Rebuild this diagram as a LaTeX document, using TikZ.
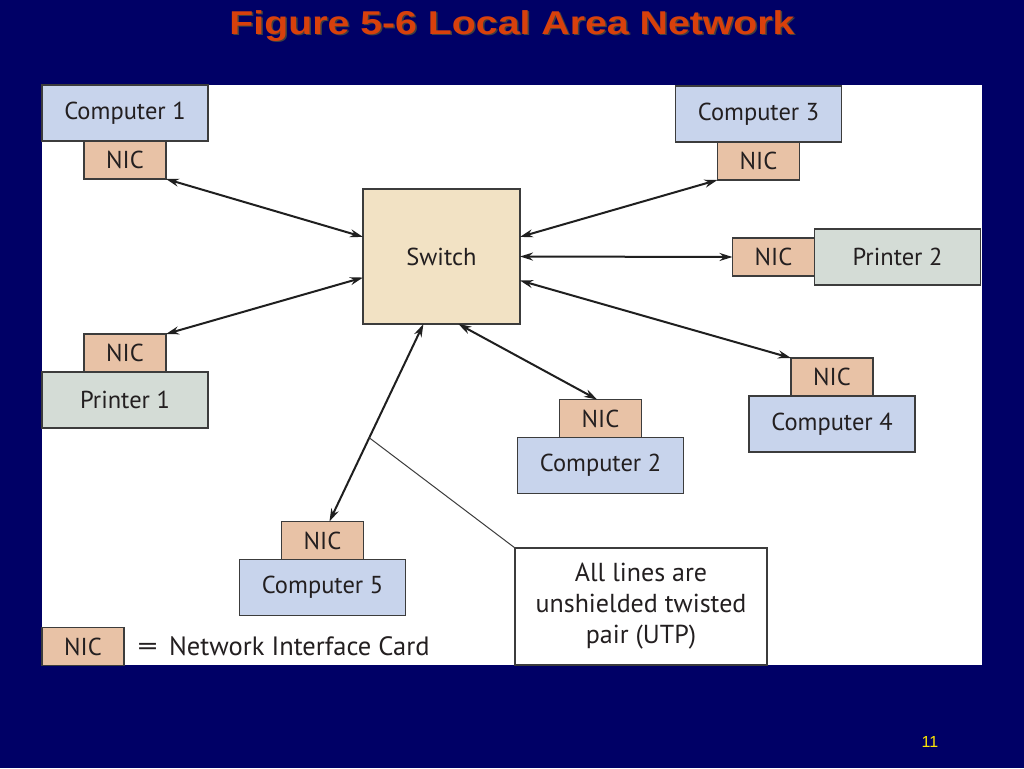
\documentclass[tikz,border=0pt]{standalone}
\usepackage{fontspec}
\setmainfont{PT Sans}
\newfontfamily\titlefont{Liberation Sans}
\usepackage{tikz}
\usetikzlibrary{arrows.meta}
\definecolor{slidebg}{HTML}{000066}
\definecolor{titlered}{HTML}{D8400C}
\definecolor{compfill}{HTML}{C8D4EC}
\definecolor{nicfill}{HTML}{E8C2A6}
\definecolor{printfill}{HTML}{D4DCD6}
\definecolor{switchfill}{HTML}{F2E2C4}
\definecolor{boxline}{HTML}{3C3C3C}
\definecolor{boxtext}{HTML}{231F20}
\tikzset{
    >={Stealth[length=13pt,width=8pt]}, % double-headed cable ends
    % Common look of every labelled box
    box/.style={draw=boxline, line width=1.4pt, inner sep=0pt, outer sep=0pt,
        text=boxtext, font=\fontsize{24.5}{28}\selectfont},
    computer/.style={box, fill=compfill, minimum width=166pt, minimum height=56pt},
    printer/.style={box, fill=printfill, minimum width=166pt, minimum height=56pt},
    nic/.style={box, fill=nicfill, minimum width=82pt, minimum height=38pt},
    hub/.style={box, fill=switchfill, minimum width=157pt, minimum height=135pt},
    cable/.style={<->, line width=2pt, draw=black!88},
    leader/.style={line width=1pt, draw=boxline},
    headline/.style={font=\titlefont\bfseries\fontsize{33}{36}\selectfont}
}

\begin{document}
\begin{tikzpicture}[x=1pt,y=-1pt]
  \useasboundingbox (0,0) rectangle (1024,768);
  % Slide background and white figure panel
  \fill[slidebg] (0,0) rectangle (1024,768);
  \fill[white] (42,85) rectangle (982,665);

  % Title with its shadow
  \node[headline, text=black!75] at (513.5,27.5)
    {\scalebox{1.19}[1]{Figure 5-6 Local Area Network}};
  \node[headline, text=titlered] (title) at (512,26)
    {\scalebox{1.19}[1]{Figure 5-6 Local Area Network}};

  % Switch in the middle
  \node[hub] (switch) at (441.5,256.5) {Switch};

  % Computers, printers and their cards
  \node[computer] (comp1) at (125,113) {Computer 1};
  \node[nic, anchor=north] (nic1) at (comp1.south) {NIC};

  \node[computer] (comp3) at (758.5,114) {Computer 3};
  \node[nic, anchor=north] (nic3) at (comp3.south) {NIC};

  \node[printer] (prn2) at (897.5,257) {Printer 2};
  \node[nic, anchor=east] (nicp2) at (prn2.west) {NIC};

  \node[printer] (prn1) at (125,400) {Printer 1};
  \node[nic, anchor=south] (nicp1) at (prn1.north) {NIC};

  \node[computer] (comp4) at (832,424) {Computer 4};
  \node[nic, anchor=south] (nicc4) at (comp4.north) {NIC};

  \node[computer] (comp2) at (600.5,465.5) {Computer 2};
  \node[nic, anchor=south] (nicc2) at (comp2.north) {NIC};

  \node[computer] (comp5) at (322.5,587.5) {Computer 5};
  \node[nic, anchor=south] (nicc5) at (comp5.north) {NIC};

  % Cables to the switch
  \draw[cable] (nic1.south east) -- (switch.166);
  \draw[cable] (nic3.south west) -- (switch.14);
  \draw[cable] (nicp2.west) -- (switch.east);
  \draw[cable] (nicp1.north east) -- (switch.195);
  \draw[cable] (nicc4.north west) -- (switch.343);
  \draw[cable] (nicc2.100) -- (switch.284);
  \draw[cable] (switch.255) -- coordinate[pos=0.576] (tap) (nicc5.70);

  % Note on the cabling
  \node[box, fill=white, minimum width=252pt, minimum height=117pt, align=center,
    font=\fontsize{26}{31}\selectfont] (note) at (641,606.5)
    {All lines are\\unshielded twisted\\pair (UTP)};
  \draw[leader] (tap) -- (note.north west);

  % Key
  \node[nic] (key) at (83,646.5) {NIC};
  \node[anchor=west, text=boxtext, font=\fontsize{26.5}{28}\selectfont] (keytext)
    at ([xshift=10pt]key.east) {\scalebox{1.5}[1]{=}\, Network Interface Card};

  % Slide number
  \node[text=yellow!90!orange, font=\titlefont\fontsize{16}{18}\selectfont] (pagenum)
    at (930,742) {11};
\end{tikzpicture}
\end{document}
